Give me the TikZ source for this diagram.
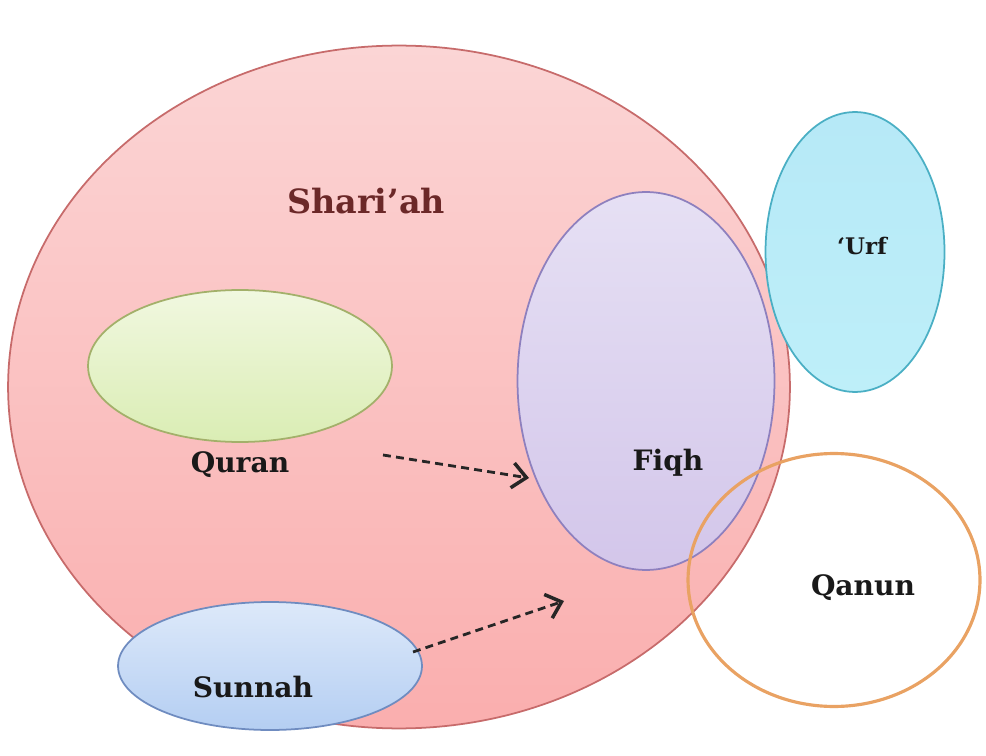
\documentclass[tikz,border=0pt]{standalone}
\usepackage{fontspec}
\setmainfont{DejaVu Serif}
\usetikzlibrary{shapes.geometric,arrows.meta}
\definecolor{sharibordo}{HTML}{C76B6B}
\definecolor{sharitop}{HTML}{FBD5D5}
\definecolor{sharibot}{HTML}{FAAEAE}
\definecolor{sharitesto}{HTML}{6B2828}
\definecolor{verdebordo}{HTML}{A3B06A}
\definecolor{verdetop}{HTML}{F1F8E0}
\definecolor{verdebot}{HTML}{DAEDB4}
\definecolor{lavbordo}{HTML}{8E80BE}
\definecolor{lavtop}{HTML}{E6E0F4}
\definecolor{lavbot}{HTML}{D3C6EA}
\definecolor{cianobordo}{HTML}{4AAFC4}
\definecolor{cianotop}{HTML}{B6E9F7}
\definecolor{cianobot}{HTML}{BEEFF9}
\definecolor{arancio}{HTML}{E9A263}
\definecolor{blubordo}{HTML}{6F8CC0}
\definecolor{blutop}{HTML}{DDE9FA}
\definecolor{blubot}{HTML}{B4CEF2}
\begin{document}
\begin{tikzpicture}[x=0.02cm,y=-0.02cm]
    % Definizione stili
    \tikzset{insieme/.style={ellipse, draw, line width=1pt, inner sep=0pt}}
    \tikzstyle{etichetta}=[font=\bfseries\fontsize{16}{18}\selectfont, text=black!90]
    \tikzstyle{freccia}=[-{Straight Barb[length=2.8mm,width=5mm,line width=2pt]}, line width=1.6pt, dash pattern=on 4.5pt off 3pt, black!85]

    \useasboundingbox (0,0) rectangle (986,756);

    % Shari'ah
    \node[insieme, draw=sharibordo, top color=sharitop, bottom color=sharibot, minimum width=15.64cm, minimum height=13.66cm] (shariah) at (399,387) {};
    \node[font=\bfseries\fontsize{19}{22}\selectfont, text=sharitesto] (shariahlbl) at (366,201) {Shari’ah};

    % Quran
    \node[insieme, draw=verdebordo, top color=verdetop, bottom color=verdebot, minimum width=6.08cm, minimum height=3.04cm] (quran) at (240,366) {};
    \node[etichetta] (quranlbl) at (240,465) {Quran};

    % Fiqh
    \node[insieme, draw=lavbordo, top color=lavtop, bottom color=lavbot, minimum width=5.14cm, minimum height=7.56cm] (fiqh) at (646,381) {};
    \node[etichetta] (fiqhlbl) at (668,463) {Fiqh};

    % 'Urf
    \node[insieme, draw=cianobordo, top color=cianotop, bottom color=cianobot, minimum width=3.58cm, minimum height=5.6cm] (urf) at (855,252) {};
    \node[etichetta, font=\bfseries\fontsize{13}{15}\selectfont] (urflbl) at (862,246) {‘Urf};

    % Qanun
    \node[insieme, draw=arancio, line width=1.8pt, minimum width=5.84cm, minimum height=5.06cm] (qanun) at (834,580) {};
    \node[etichetta] (qanunlbl) at (863,588) {Qanun};

    % Sunnah
    \node[insieme, draw=blubordo, top color=blutop, bottom color=blubot, minimum width=6.08cm, minimum height=2.56cm] (sunnah) at (270,666) {};
    \node[etichetta] (sunnahlbl) at (253,687) {Sunnah};

    % Frecce
    \coordinate (qfrom) at (383,455);
    \coordinate (qto) at (529,478);
    \coordinate (sfrom) at (413,652);
    \coordinate (sto) at (564,601);
    \draw[freccia] (qfrom) -- (qto);
    \draw[freccia] (sfrom) -- (sto);
\end{tikzpicture}
\end{document}
